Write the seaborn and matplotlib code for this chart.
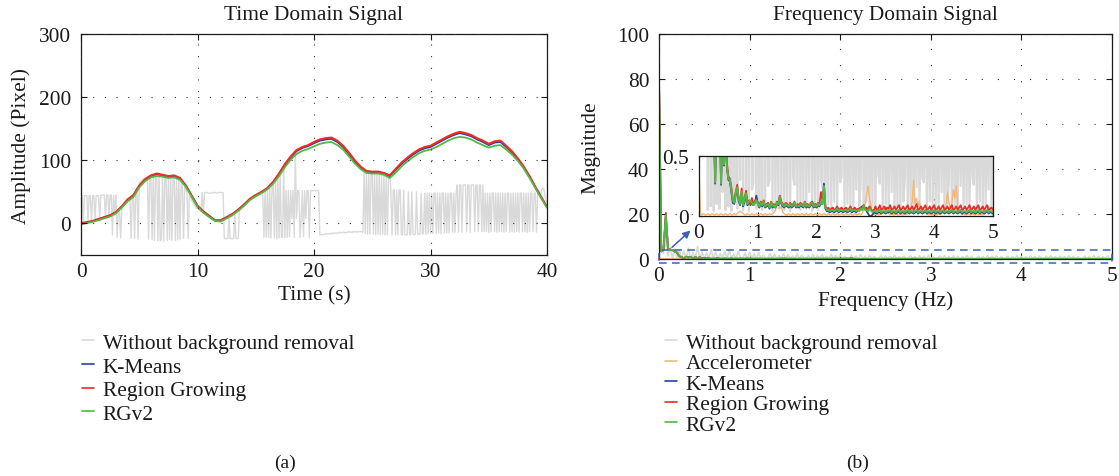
import numpy as np
import matplotlib
matplotlib.use("Agg")
import matplotlib.pyplot as plt
import seaborn as sns
from matplotlib.lines import Line2D
from matplotlib.patches import Rectangle

# ---------------- time-domain data (panel a) ----------------
time_s = np.round(np.arange(0, 40.01, 0.5), 1)

kmeans_amp = [0, 1.5, 3.5, 6.5, 9.5, 12.5, 17.5, 26.5, 37, 44,
              59, 69, 75, 78, 76, 74, 75, 71, 59.5, 43.5,
              27.5, 18.5, 11.5, 4.5, 4.5, 9.5, 14.5, 21.5, 29.5, 38.5,
              44.5, 49.5, 55.5, 65.5, 78, 92.5, 104.5, 114.5, 119.5, 122.5,
              127, 131, 133, 134, 129, 121, 110, 98.5, 88.5, 82,
              81, 81, 79, 75, 84.5, 94, 102, 109, 115, 119,
              121, 126, 131, 136, 140, 143, 141, 138, 133, 129,
              124, 128, 129, 121, 112.5, 101.5, 89, 74, 57, 41,
              25.5]
region_amp = [0.5, 2, 4, 7, 10, 13, 18, 27, 38, 45,
              60, 70, 76, 79, 77, 75, 76, 72, 60, 44,
              28, 19, 12, 5, 5, 10, 15, 22, 30, 39,
              45, 50, 56, 66, 79, 94, 106, 116, 121, 124,
              129, 133, 135, 136, 131, 123, 112, 100, 90, 83,
              82, 82, 80, 76, 86, 96, 104, 111, 117, 121,
              123, 128, 133, 138, 142, 145, 143, 140, 135, 131,
              126, 130, 131, 123, 114, 103, 90, 75, 58, 42,
              26]
rgv2_amp = [-1.5, 0.5, 2.5, 5, 8, 11, 16, 25, 35, 42,
            57, 67, 73, 75, 74, 72, 73, 69, 58, 42,
            26, 17, 10, 4, 3, 8, 13, 20, 28, 37,
            43, 48, 54, 63, 75, 89, 101, 110, 115, 118,
            122, 126, 128, 129, 124, 117, 106, 95, 86, 80,
            79, 79, 77, 72, 80, 90, 98, 105, 111, 115,
            117, 121, 126, 131, 135, 137, 136, 133, 128, 124,
            120, 123, 124, 117, 109, 99, 87, 72, 56, 40,
            25]

raw_time = np.round(np.arange(0, 40.01, 0.1), 1)
raw_amp = [
    44, 44, 1, 44, 44, 44, 2, 44, 44, 3, 44, 44, 4, 44, 44, 44, 6, 44, 45, 45,
    45, 9, 45, 45, 11, 45, 45, -18, 45, 13, 45, -22, 18, 20, -23, 24, 26, 28, 31, 34,
    36, 38, 40, -24, 43, 44, -24, 52, 56, -25, 64, 66, 68, 70, 71, 72, 73, 74, -25, 76,
    76, -26, 77, -27, 78, 78, -28, 78, -27, -26, 77, -28, 76, 76, -27, 75, -26, 75, -27, 75,
    75, -27, 74, -26, 72, -25, 67, 64, -24, 57, 53, 50, -24, 43, 40, 37, 33, 30, 27, 24,
    24, 22, 21, 19, 49, 16, 49, 49, 49, 48, 48, 48, 48, 49, 49, 49, 48, 48, 49, 49,
    49, 49, 49, -24, -24, -24, -24, 9, -24, -24, -24, -24, 13, -24, -24, -24, 22, 24, 26, 28,
    28, 30, 32, 34, 36, 38, 39, 40, 41, 42, 43, 44, 45, 46, 47, 48, 49, -22, 51, -22,
    54, -22, 57, -23, 61, 63, -23, 69, -24, 75, -23, 81, -22, -22, 90, -23, 52, -22, 52, -21,
    52, 8, 52, -22, 110, 8, 52, 52, -22, 8, 52, -21, 52, 8, 52, 52, -22, 52, 52, 52,
    52, 52, 52, 52, 52, -18, -18, -17, -18, -17, -17, -16, -17, -16, -16, -17, -15, -16, -15, -16,
    -15, -15, -14, -15, -15, -14, -14, -15, -14, -14, -13, -14, -14, -13, -14, -13, -13, -14, -13, -13,
    -13, -13, -14, 84, -16, 82, -17, 81, -17, 80, 80, -17, 80, -18, 79, -17, 79, -18, 79, -17,
    79, -18, 78, -18, 78, 77, 53, -18, 53, 53, -18, 53, -18, 53, 53, -18, -18, 53, -18, -18,
    -18, 50, -18, -18, 50, -17, -18, -17, 50, -17, -17, -17, 48, -17, -16, 48, -17, 48, -16, 48,
    -16, 48, -16, 48, 48, -16, 48, -15, 48, -16, 48, 48, -15, 48, -15, 48, -15, 48, 48, -14,
    48, -14, 48, 61, -14, 61, 61, -14, 61, 61, 61, -13, 61, 61, -14, 61, 61, 61, -13, 61,
    61, -13, 61, 61, -13, 61, -13, 48, -13, 48, -14, 48, -13, 48, 48, -13, 48, -14, 48, -13,
    48, -13, 48, -14, 48, -13, 48, 48, -14, 48, -13, 48, -14, 48, -13, 48, -14, 48, 48, -13,
    48, -13, 48, -14, 48, -13, 48, 48, -13, 48, 48, -14, 48, 52, 48, 48, 56, 56, 48, 38,
    30]

# ---------------- frequency-domain data (panel b) ----------------
freq_hz = np.round(np.arange(0, 5.0001, 0.025), 3)

raw_mag = [
    26, 6, 2.5, 8, 1.5, 5, 0.05, 4.5, 0.08, 3.8,
    0.04, 3.5, 0.1, 4.8, 0.06, 2.9, 0.2, 5.5, 0.05, 3.2,
    0.08, 2.8, 0.04, 4.2, 0.12, 3.1, 0.06, 2.5, 0.3, 3.6,
    0.05, 4.1, 0.09, 2.2, 0.04, 3.4, 0.22, 0.28, 2.6, 0.06,
    3.0, 0.1, 2.4, 0.05, 2.9, 0.08, 1.8, 0.25, 0.3, 2.5,
    0.04, 2.1, 0.09, 1.6, 0.06, 2.3, 0.12, 1.9, 0.05, 1.4,
    0.08, 2.2, 0.04, 1.7, 0.32, 0.26, 1.5, 0.07, 2.0, 0.05,
    1.6, 0.1, 1.9, 0.06, 1.3, 0.2, 2.1, 0.04, 1.5, 0.09,
    1.8, 0.05, 1.2, 0.3, 0.24, 1.7, 0.06, 1.4, 0.1, 2.0,
    0.04, 1.3, 0.12, 1.6, 0.05, 1.1, 0.28, 0.33, 1.5, 0.07,
    1.4, 0.1, 1.2, 0.04, 1.6, 0.08, 1.0, 0.22, 1.3, 0.05,
    0.3, 1.5, 0.06, 1.1, 0.12, 1.4, 0.04, 1.2, 0.09, 1.6,
    0.05, 1.0, 0.34, 0.27, 1.3, 0.06, 1.5, 0.1, 1.1, 0.04,
    1.4, 0.2, 1.2, 0.05, 1.0, 0.08, 1.6, 0.04, 1.2, 0.12,
    0.3, 1.3, 0.06, 1.1, 0.1, 1.5, 0.04, 1.2, 0.24, 1.4,
    0.05, 1.0, 0.31, 0.28, 1.3, 0.07, 1.1, 0.12, 1.5, 0.05,
    1.2, 0.09, 1.0, 0.04, 1.4, 0.2, 1.1, 0.06, 1.3, 0.1,
    0.3, 1.2, 0.05, 1.5, 0.08, 1.0, 0.04, 1.3, 0.25, 1.1,
    0.06, 1.4, 0.1, 1.2, 0.04, 1.0, 0.32, 0.26, 1.3, 0.07,
    1.1, 0.12, 1.5, 0.05, 1.2, 0.09, 1.0, 0.22, 1.4, 0.06,
    1.2]

accel_mag = [
    0.4, 0.02, 0.01, 0.02, 0.01, 0.01, 0.02, 0.01, 0.01, 0.02, 0.01, 0.01, 0.02, 0.01, 0.01, 0.02, 0.01, 0.01, 0.02, 0.01,
    0.01, 0.02, 0.01, 0.01, 0.02, 0.01, 0.02, 0.03, 0.04, 0.03, 0.02, 0.01, 0.01, 0.02, 0.01, 0.01, 0.02, 0.01, 0.01, 0.02,
    0.01, 0.01, 0.02, 0.01, 0.01, 0.02, 0.01, 0.01, 0.02, 0.01, 0.02, 0.03, 0.05, 0.09, 0.12, 0.06, 0.08, 0.03, 0.02, 0.01,
    0.01, 0.02, 0.01, 0.01, 0.02, 0.01, 0.01, 0.02, 0.01, 0.01, 0.02, 0.01, 0.01, 0.02, 0.01, 0.01, 0.02, 0.01, 0.01, 0.02,
    0.01, 0.01, 0.02, 0.01, 0.01, 0.02, 0.01, 0.01, 0.02, 0.01, 0.01, 0.02, 0.01, 0.01, 0.02, 0.01, 0.01, 0.02, 0.01, 0.01,
    0.02, 0.01, 0.01, 0.02, 0.01, 0.01, 0.02, 0.01, 0.01, 0.02, 0.01, 0.02, 0.05, 0.1, 0.18, 0.25, 0.15, 0.08, 0.03, 0.02,
    0.01, 0.02, 0.01, 0.01, 0.02, 0.03, 0.05, 0.08, 0.04, 0.02, 0.01, 0.02, 0.01, 0.01, 0.02, 0.01, 0.01, 0.02, 0.01, 0.01,
    0.02, 0.01, 0.02, 0.03, 0.05, 0.12, 0.3, 0.1, 0.15, 0.08, 0.12, 0.05, 0.03, 0.02, 0.04, 0.02, 0.01, 0.02, 0.01, 0.01,
    0.02, 0.01, 0.01, 0.02, 0.01, 0.02, 0.03, 0.05, 0.08, 0.2, 0.12, 0.06, 0.1, 0.22, 0.15, 0.25, 0.08, 0.04, 0.02, 0.01,
    0.02, 0.01, 0.01, 0.02, 0.01, 0.01, 0.02, 0.01, 0.01, 0.02, 0.01, 0.02, 0.01, 0.01, 0.02, 0.03, 0.04, 0.08, 0.05, 0.02,
    0.01]

kmeans_mag = [
    79, 3.4, 4.0, 18.6, 4.5, 4.1, 3.9, 3.3, 2.8, 1.15, 0.82, 0.27, 1.0, 0.64, 0.92, 0.26, 0.8, 0.42, 0.7, 0.4,
    0.3, 0.29, 0.2, 0.11, 0.1, 0.18, 0.22, 0.12, 0.09, 0.19, 0.08, 0.12, 0.18, 0.09, 0.11, 0.12, 0.1, 0.09, 0.11, 0.17,
    0.1, 0.07, 0.1, 0.08, 0.11, 0.07, 0.08, 0.09, 0.06, 0.1, 0.07, 0.08, 0.07, 0.1, 0.09, 0.15, 0.1, 0.08, 0.07, 0.09,
    0.08, 0.07, 0.09, 0.07, 0.08, 0.1, 0.07, 0.08, 0.07, 0.09, 0.08, 0.07, 0.1, 0.07, 0.08, 0.07, 0.09, 0.1, 0.07, 0.08,
    0.07, 0.09, 0.08, 0.11, 0.1, 0.27, 0.06, 0.04, 0.04, 0.03, 0.04, 0.04, 0.03, 0.04, 0.05, 0.03, 0.04, 0.04, 0.03, 0.04,
    0.04, 0.03, 0.04, 0.05, 0.03, 0.04, 0.04, 0.03, 0.05, 0.06, 0.07, 0.08, 0.09, 0.06, 0.04, 0.02, 0.0, 0.0, 0.01, 0.03,
    0.03, 0.02, 0.03, 0.03, 0.02, 0.03, 0.03, 0.02, 0.03, 0.03, 0.04, 0.02, 0.03, 0.03, 0.02, 0.03, 0.04, 0.02, 0.03, 0.03,
    0.02, 0.03, 0.04, 0.02, 0.03, 0.03, 0.02, 0.03, 0.04, 0.02, 0.03, 0.03, 0.02, 0.03, 0.04, 0.02, 0.03, 0.03, 0.02, 0.03,
    0.04, 0.02, 0.03, 0.03, 0.02, 0.03, 0.04, 0.02, 0.03, 0.03, 0.02, 0.03, 0.04, 0.02, 0.03, 0.03, 0.02, 0.03, 0.04, 0.02,
    0.03, 0.03, 0.02, 0.03, 0.04, 0.02, 0.03, 0.03, 0.02, 0.03, 0.04, 0.02, 0.03, 0.03, 0.02, 0.03, 0.04, 0.02, 0.03, 0.03,
    0.02]

region_mag = [
    81, 3.5, 4.1, 20.5, 4.6, 4.2, 4.0, 3.4, 2.9, 1.2, 0.85, 0.3, 1.05, 0.7, 0.95, 0.29, 0.82, 0.46, 0.72, 0.44,
    0.33, 0.31, 0.24, 0.14, 0.12, 0.2, 0.26, 0.15, 0.11, 0.23, 0.1, 0.15, 0.21, 0.11, 0.13, 0.09, 0.15, 0.1, 0.12, 0.14,
    0.11, 0.09, 0.12, 0.1, 0.13, 0.08, 0.1, 0.11, 0.07, 0.12, 0.09, 0.1, 0.08, 0.12, 0.11, 0.17, 0.12, 0.1, 0.09, 0.11,
    0.1, 0.08, 0.11, 0.09, 0.1, 0.12, 0.08, 0.1, 0.09, 0.11, 0.1, 0.08, 0.12, 0.09, 0.1, 0.08, 0.11, 0.12, 0.09, 0.1,
    0.09, 0.11, 0.1, 0.2, 0.13, 0.22, 0.08, 0.06, 0.07, 0.05, 0.06, 0.07, 0.05, 0.06, 0.08, 0.05, 0.06, 0.07, 0.05, 0.06,
    0.07, 0.05, 0.06, 0.08, 0.05, 0.06, 0.07, 0.05, 0.06, 0.05, 0.07, 0.06, 0.09, 0.06, 0.07, 0.05, 0.08, 0.06, 0.04, 0.05,
    0.08, 0.05, 0.06, 0.09, 0.05, 0.06, 0.08, 0.05, 0.07, 0.06, 0.09, 0.05, 0.06, 0.08, 0.05, 0.07, 0.09, 0.05, 0.06, 0.08,
    0.05, 0.07, 0.09, 0.05, 0.06, 0.08, 0.05, 0.07, 0.1, 0.05, 0.06, 0.08, 0.05, 0.07, 0.09, 0.05, 0.06, 0.08, 0.05, 0.07,
    0.09, 0.05, 0.06, 0.08, 0.05, 0.07, 0.09, 0.05, 0.06, 0.08, 0.05, 0.07, 0.09, 0.05, 0.06, 0.08, 0.05, 0.07, 0.09, 0.05,
    0.06, 0.08, 0.05, 0.07, 0.09, 0.05, 0.06, 0.08, 0.05, 0.07, 0.09, 0.05, 0.06, 0.08, 0.05, 0.07, 0.09, 0.05, 0.06, 0.07,
    0.05]

rgv2_mag = [
    77, 3.3, 3.9, 19.2, 4.4, 4.1, 3.9, 3.3, 2.8, 1.1, 0.8, 0.28, 1.0, 0.66, 0.9, 0.27, 0.78, 0.43, 0.7, 0.41,
    0.31, 0.3, 0.22, 0.13, 0.11, 0.19, 0.24, 0.14, 0.1, 0.2, 0.09, 0.14, 0.19, 0.1, 0.12, 0.13, 0.11, 0.09, 0.11, 0.13,
    0.1, 0.08, 0.11, 0.09, 0.12, 0.08, 0.09, 0.1, 0.07, 0.11, 0.08, 0.09, 0.07, 0.11, 0.1, 0.16, 0.11, 0.09, 0.08, 0.1,
    0.09, 0.08, 0.1, 0.08, 0.09, 0.11, 0.08, 0.09, 0.08, 0.1, 0.09, 0.08, 0.11, 0.08, 0.09, 0.08, 0.1, 0.11, 0.08, 0.09,
    0.08, 0.1, 0.09, 0.12, 0.1, 0.25, 0.07, 0.05, 0.05, 0.04, 0.05, 0.05, 0.04, 0.05, 0.06, 0.04, 0.05, 0.05, 0.04, 0.05,
    0.05, 0.04, 0.05, 0.06, 0.04, 0.05, 0.05, 0.04, 0.05, 0.04, 0.06, 0.05, 0.09, 0.05, 0.05, 0.04, 0.06, 0.05, 0.03, 0.04,
    0.04, 0.03, 0.04, 0.05, 0.03, 0.04, 0.04, 0.03, 0.04, 0.04, 0.05, 0.03, 0.04, 0.04, 0.03, 0.04, 0.05, 0.03, 0.04, 0.04,
    0.03, 0.04, 0.05, 0.03, 0.04, 0.04, 0.03, 0.04, 0.05, 0.03, 0.04, 0.04, 0.03, 0.04, 0.05, 0.03, 0.04, 0.04, 0.03, 0.04,
    0.05, 0.03, 0.04, 0.04, 0.03, 0.04, 0.05, 0.03, 0.04, 0.04, 0.03, 0.04, 0.05, 0.03, 0.04, 0.04, 0.03, 0.04, 0.05, 0.03,
    0.04, 0.04, 0.03, 0.04, 0.05, 0.03, 0.04, 0.04, 0.03, 0.04, 0.05, 0.03, 0.04, 0.04, 0.03, 0.04, 0.05, 0.03, 0.04, 0.04,
    0.03]

time_ticks = [0, 10, 20, 30, 40]
amp_ticks = [0, 100, 200, 300]
freq_ticks = [0, 1, 2, 3, 4, 5]
mag_ticks = [0, 20, 40, 60, 80, 100]

C_RAW = "#d9d9d9"
C_ACC = "#f7b57a"
C_KM = "#2c3f9f"
C_RG = "#ee2b24"
C_RG2 = "#52b847"
C_BOX = "#3c62b4"
FS = 15.4

sns.set_theme(style="white")
plt.rcParams.update({
    "font.family": ["Liberation Serif", "DejaVu Serif"],
    "font.size": FS,
    "axes.edgecolor": "#1a1a1a",
    "axes.linewidth": 0.9,
    "xtick.direction": "in",
    "ytick.direction": "in",
    "xtick.bottom": True, "xtick.top": True,
    "ytick.left": True, "ytick.right": True,
    "xtick.major.size": 4, "ytick.major.size": 4,
    "xtick.major.width": 0.8, "ytick.major.width": 0.8,
    "xtick.color": "#1a1a1a", "ytick.color": "#1a1a1a",
    "xtick.labelsize": FS, "ytick.labelsize": FS,
    "xtick.major.pad": 5, "ytick.major.pad": 7,
    "axes.titlesize": FS, "axes.labelsize": FS,
    "text.color": "#1a1a1a", "axes.labelcolor": "#1a1a1a",
})

W, H = 1119, 477
fig = plt.figure(figsize=(W / 100, H / 100), dpi=100)


def box(x0, y_top, x1, y_bot):
    return [x0 / W, 1 - y_bot / H, (x1 - x0) / W, (y_bot - y_top) / H]


def line(ax, x, y, color, lw):
    sns.lineplot(x=x, y=y, ax=ax, color=color, linewidth=lw,
                 estimator=None, sort=False, legend=False)


# ---------------- panel (a) ----------------
ax_t = fig.add_axes(box(81, 35, 547, 256))
line(ax_t, raw_time, raw_amp, C_RAW, 1.0)
line(ax_t, time_s, kmeans_amp, C_KM, 1.3)
line(ax_t, time_s, region_amp, C_RG, 1.5)
line(ax_t, time_s, rgv2_amp, C_RG2, 1.3)
ax_t.set_xlim(0, 40)
ax_t.set_ylim(-50, 300)
ax_t.set_xticks(time_ticks)
ax_t.set_yticks(amp_ticks)
ax_t.grid(True, color="#333333", linestyle=(0, (1, 9.5)), linewidth=0.8)
ax_t.set_axisbelow(False)
ax_t.set_title("Time Domain Signal", pad=11)
ax_t.set_xlabel("Time (s)", labelpad=3)
ax_t.set_ylabel("Amplitude (Pixel)", labelpad=6)

# ---------------- panel (b) ----------------
ax_f = fig.add_axes(box(659, 35, 1112, 260))
line(ax_f, freq_hz, raw_mag, C_RAW, 1.2)
line(ax_f, freq_hz, accel_mag, C_ACC, 1.2)
line(ax_f, freq_hz, kmeans_mag, C_KM, 1.3)
line(ax_f, freq_hz, region_mag, C_RG, 1.3)
line(ax_f, freq_hz, rgv2_mag, C_RG2, 1.4)
ax_f.set_xlim(0, 5)
ax_f.set_ylim(0, 100)
ax_f.set_xticks(freq_ticks)
ax_f.set_yticks(mag_ticks)
ax_f.grid(True, color="#333333", linestyle=(0, (1, 13.5)), linewidth=0.8)
ax_f.set_title("Frequency Domain Signal", pad=11)
ax_f.set_xlabel("Frequency (Hz)", labelpad=4)
ax_f.set_ylabel("Magnitude", labelpad=12)

# zoom box and pointer
ax_f.add_patch(Rectangle((0, -1.8), 5, 5.9, fill=False, edgecolor=C_BOX,
                         linestyle=(0, (5, 3.5)), linewidth=1.1, clip_on=False, zorder=5))
ax_f.annotate("", xy=(0.37, 13.5), xytext=(0.12, 4.3),
              arrowprops=dict(arrowstyle="-|>", color=C_BOX, lw=1.1, mutation_scale=11))

# inset: magnified low-magnitude region
ax_in = fig.add_axes(box(699, 157, 993, 217))
line(ax_in, freq_hz, raw_mag, C_RAW, 1.6)
line(ax_in, freq_hz, accel_mag, C_ACC, 1.0)
line(ax_in, freq_hz, kmeans_mag, C_KM, 1.3)
line(ax_in, freq_hz, region_mag, C_RG, 1.3)
line(ax_in, freq_hz, rgv2_mag, C_RG2, 1.4)
ax_in.set_xlim(0, 5)
ax_in.set_ylim(0, 0.5)
ax_in.set_xticks(freq_ticks)
ax_in.set_yticks([0, 0.5])
ax_in.set_yticklabels(["0", "0.5"])
ax_in.tick_params(length=3)
ax_in.grid(True, axis="x", color="#333333", linestyle=(0, (1, 13.5)), linewidth=0.8)
ax_in.set_xlabel("")
ax_in.set_ylabel("")

# ---------------- legends ----------------
def legend_at(x_px, y_px, items, spacing):
    handles = [Line2D([], [], color=c, lw=1.2) for _, c in items]
    labels = [n for n, _ in items]
    fig.legend(handles, labels, loc="upper left",
               bbox_to_anchor=(x_px / W, 1 - y_px / H), frameon=False,
               borderpad=0, borderaxespad=0, handlelength=0.55,
               handletextpad=0.42, labelspacing=spacing, fontsize=FS)


legend_at(82, 334, [("Without background removal", C_RAW), ("K-Means", C_KM),
                    ("Region Growing", C_RG), ("RGv2", C_RG2)], 0.17)
legend_at(665, 334, [("Without background removal", C_RAW), ("Accelerometer", C_ACC),
                     ("K-Means", C_KM), ("Region Growing", C_RG), ("RGv2", C_RG2)], 0.02)

fig.text(285 / W, 1 - 463 / H, "(a)", ha="center", va="center", fontsize=14)
fig.text(858 / W, 1 - 463 / H, "(b)", ha="center", va="center", fontsize=14)

fig.savefig("out.png", dpi=100)
